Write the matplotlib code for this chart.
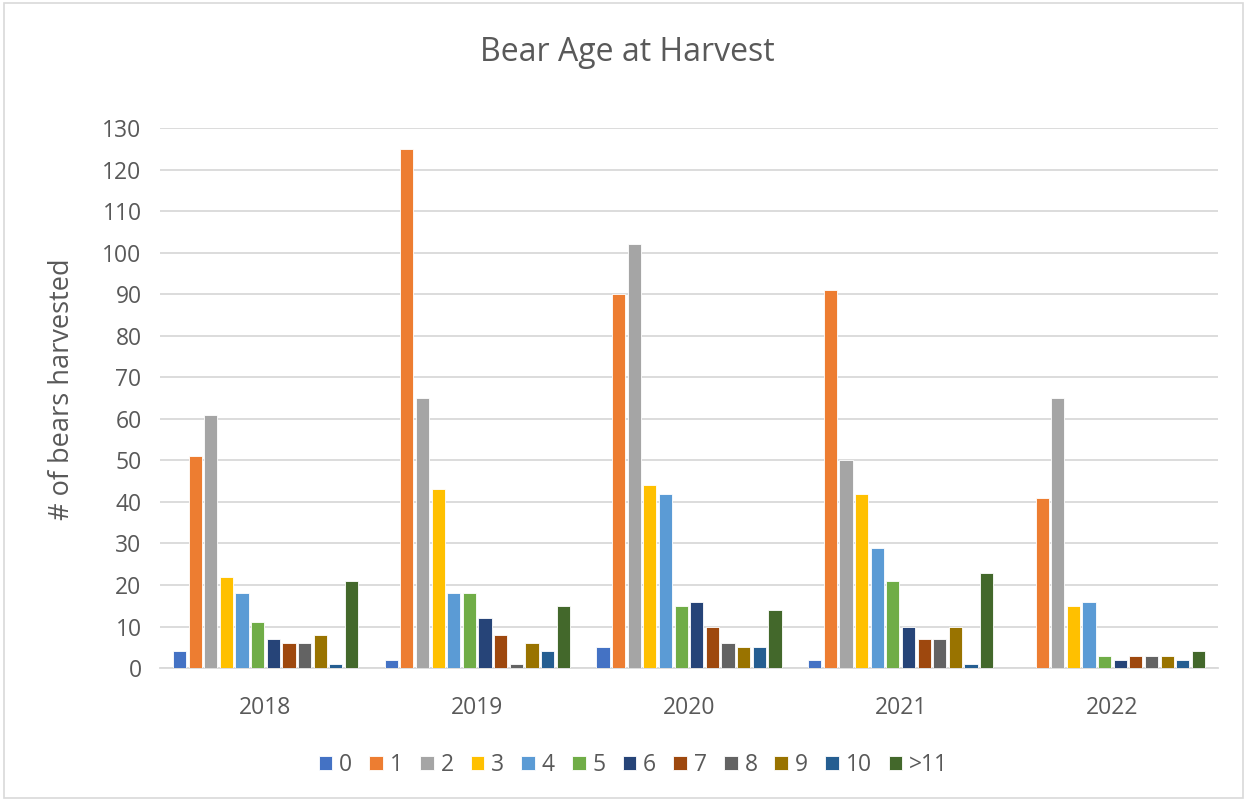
"""
Bear age at harvest - clustered bar chart
"""
import numpy as np
import matplotlib
matplotlib.use("Agg")
import matplotlib.pyplot as plt
from matplotlib.patches import Rectangle

# data
years = ['2018', '2019', '2020', '2021', '2022']
ages = ['0', '1', '2', '3', '4', '5', '6', '7', '8', '9', '10', '>11']
age_0 = [4, 2, 5, 2, 0]
age_1 = [51, 125, 90, 91, 41]
age_2 = [61, 65, 102, 50, 65]
age_3 = [22, 43, 44, 42, 15]
age_4 = [18, 18, 42, 29, 16]
age_5 = [11, 18, 15, 21, 3]
age_6 = [7, 12, 16, 10, 2]
age_7 = [6, 8, 10, 7, 3]
age_8 = [6, 1, 6, 7, 3]
age_9 = [8, 6, 5, 10, 3]
age_10 = [1, 4, 5, 1, 2]
age_11 = [21, 15, 14, 23, 4]
series = [age_0, age_1, age_2, age_3, age_4, age_5, age_6, age_7,
          age_8, age_9, age_10, age_11]

colors = ['#4472C4', '#ED7D31', '#A5A5A5', '#FFC000', '#5B9BD5', '#70AD47',
          '#264478', '#9E480E', '#636363', '#997300', '#255E91', '#43682B']

plt.rcParams['font.family'] = ['Open Sans', 'DejaVu Sans']
text_color = '#595959'

fig = plt.figure(figsize=(12.47, 8.01), dpi=100)
ax = fig.add_axes([0.128, 0.166, 0.849, 0.674])

x = np.arange(len(years))
cluster = 0.886
step = cluster / len(series)
width = step * 0.84
for i, (vals, col) in enumerate(zip(series, colors)):
    offset = -cluster / 2 + step * (i + 0.5)
    ax.bar(x + offset, vals, width, color=col, label=ages[i],
           edgecolor='white', linewidth=0.6, zorder=3)

ax.set_xlim(-0.5, len(years) - 0.5)
ax.set_ylim(0, 130)
ax.set_yticks(range(0, 131, 10))
ax.set_xticks(x)
ax.set_xticklabels(years)
ax.tick_params(axis='both', length=0, labelsize=16.5, colors=text_color)
ax.tick_params(axis='x', pad=20)
ax.tick_params(axis='y', pad=13)
ax.grid(axis='y', color='#D9D9D9', linewidth=1.3, zorder=0)
for side in ['top', 'right', 'left']:
    ax.spines[side].set_visible(False)
ax.spines['bottom'].set_color('#D9D9D9')
ax.spines['bottom'].set_linewidth(1.3)

fig.text(0.05, 0.514, '# of bears harvested', rotation=90, ha='center', va='center',
         fontsize=19.5, color=text_color)
fig.text(0.503, 0.935, 'Bear Age at Harvest', ha='center', va='center',
         fontsize=23, color=text_color)

handles, labels = ax.get_legend_handles_labels()
leg = fig.legend(handles, labels, loc='center', bbox_to_anchor=(0.508, 0.045), ncol=12,
                 frameon=False, fontsize=16.5, handlelength=0.6, handleheight=0.6,
                 handletextpad=0.3, columnspacing=0.74, borderpad=0)
for t in leg.get_texts():
    t.set_color(text_color)

# outer chart border
fig.patches.append(Rectangle((0.003, 0.004), 0.994, 0.992, transform=fig.transFigure,
                             fill=False, edgecolor='#D9D9D9', linewidth=1.2))

plt.savefig('out.png', dpi=100)
plt.close()
